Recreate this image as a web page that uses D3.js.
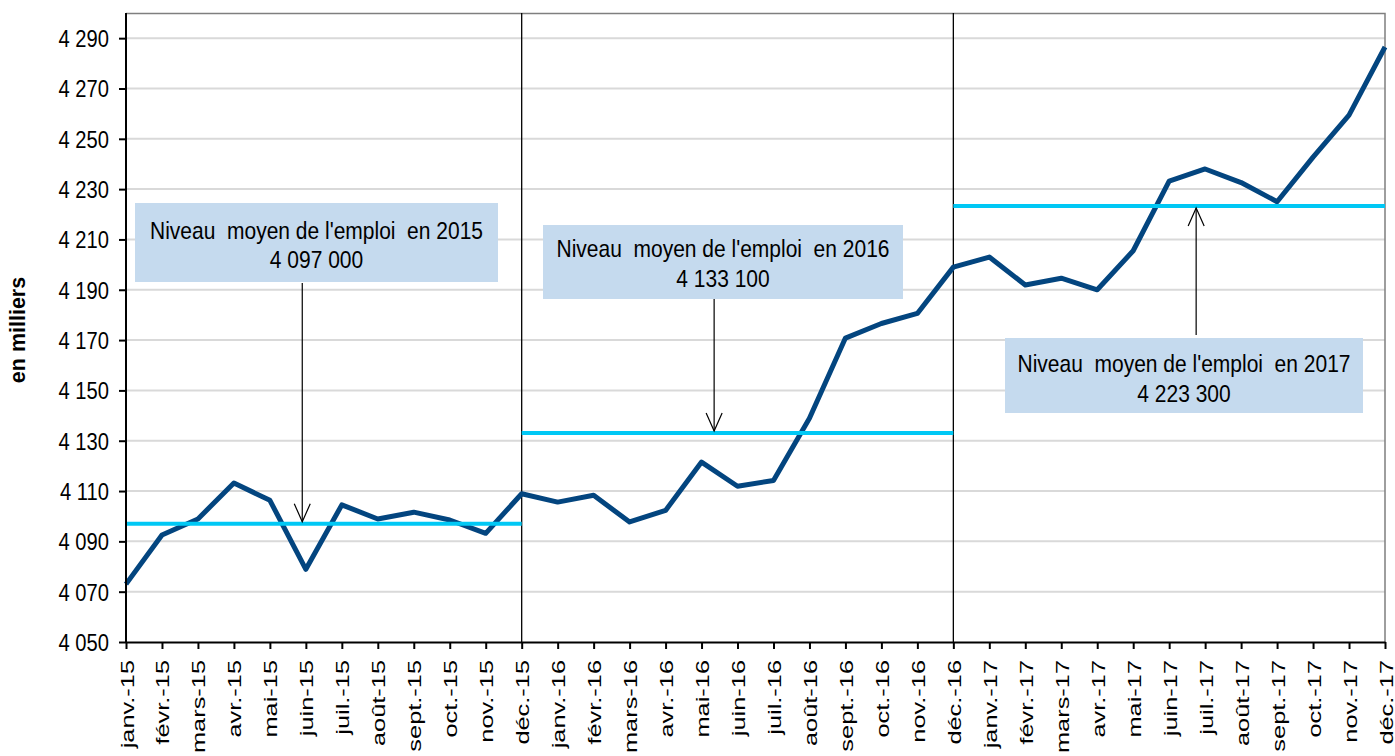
<!DOCTYPE html>
<html>
<head>
<meta charset="utf-8">
<script src="https://cdn.jsdelivr.net/npm/d3@7"></script>
<style>
  body { margin: 0; background: #fff; }
  svg { display: block; font-family: "Liberation Sans", Arial, sans-serif; }
</style>
</head>
<body>
<svg id="chart" width="1395" height="756"></svg>
<script>
// months on the x axis
const months = [
  "janv.-15","févr.-15","mars-15","avr.-15","mai-15","juin-15","juil.-15","août-15","sept.-15","oct.-15","nov.-15","déc.-15",
  "janv.-16","févr.-16","mars-16","avr.-16","mai-16","juin-16","juil.-16","août-16","sept.-16","oct.-16","nov.-16","déc.-16",
  "janv.-17","févr.-17","mars-17","avr.-17","mai-17","juin-17","juil.-17","août-17","sept.-17","oct.-17","nov.-17","déc.-17"
];

// emploi, en milliers
const emploi = [
  4073, 4092.5, 4098.9, 4113.2, 4106.3, 4078.9, 4104.5, 4098.9, 4101.6, 4098.5, 4093.2, 4108.9,
  4105.6, 4108.3, 4097.7, 4102.3, 4121.5, 4111.9, 4114.2, 4138.9, 4170.8, 4176.6, 4180.6, 4199,
  4203, 4191.9, 4194.6, 4190, 4205.5, 4233.2, 4238, 4232.6, 4225, 4242.7, 4259.4, 4286.5
];

// niveau moyen annuel : [mois début, mois fin, valeur]
const moyennes = [
  ["janv.-15", "déc.-15", 4097.0],
  ["déc.-15", "déc.-16", 4133.1],
  ["déc.-16", "déc.-17", 4223.3]
];
const moyLabels = ["Niveau  moyen de l'emploi  en 2015", "Niveau  moyen de l'emploi  en 2016", "Niveau  moyen de l'emploi  en 2017"];
const moyValues = ["4 097 000", "4 133 100", "4 223 300"];

const yTicks = d3.range(4050, 4291, 20);
const separators = ["déc.-15", "déc.-16"];

const svg = d3.select("#chart");
const mLeft = 126, mRight = 1385, mTop = 13, mBottom = 642;

const x = d3.scalePoint().domain(months).range([mLeft, mRight]);
const xi = d3.scaleLinear().domain([0, months.length - 1]).range([mLeft, mRight]);
const y = d3.scaleLinear().domain([4050, 4300]).range([mBottom, mTop]);

const fmt = d3.formatLocale({ decimal: ",", thousands: " ", grouping: [3], currency: ["", " €"] }).format(",d");

// gridlines
svg.append("g").selectAll("line").data(yTicks.slice(1)).join("line")
  .attr("x1", mLeft).attr("x2", mRight)
  .attr("y1", d => y(d)).attr("y2", d => y(d))
  .attr("stroke", "#d9d9d9").attr("stroke-width", 2);

// plot border (top, right)
svg.append("path")
  .attr("d", `M${mLeft},${mTop + 0.5}H${mRight}V${mBottom}`)
  .attr("fill", "none").attr("stroke", "#7f7f7f").attr("stroke-width", 1.5);

// year separators
svg.append("g").selectAll("line").data(separators).join("line")
  .attr("x1", d => x(d)).attr("x2", d => x(d))
  .attr("y1", mTop).attr("y2", mBottom)
  .attr("stroke", "#000").attr("stroke-width", 1.3);

// main line
svg.append("path")
  .datum(emploi)
  .attr("fill", "none")
  .attr("stroke", "#03457f")
  .attr("stroke-width", 5)
  .attr("stroke-linejoin", "round")
  .attr("d", d3.line().x((d, i) => x(months[i])).y(d => y(d)));

// average lines
svg.append("g").selectAll("line").data(moyennes).join("line")
  .attr("x1", d => x(d[0])).attr("x2", d => x(d[1]))
  .attr("y1", d => y(d[2])).attr("y2", d => y(d[2]))
  .attr("stroke", "#00c8f5").attr("stroke-width", 4);

// y axis
const yAxis = svg.append("g")
  .attr("transform", `translate(${mLeft},0)`)
  .call(d3.axisLeft(y).tickValues(yTicks).tickFormat(fmt).tickSize(7).tickSizeOuter(0).tickPadding(0));
yAxis.select(".domain").attr("stroke", "#000").attr("stroke-width", 2)
  .attr("d", `M0,${mTop}V${mBottom}`);
yAxis.selectAll(".tick line").attr("stroke", "#000").attr("stroke-width", 2);
yAxis.selectAll(".tick text")
  .attr("x", null).attr("dy", null)
  .attr("transform", "translate(-17,8.5) scale(0.84,1)")
  .attr("fill", "#000")
  .style("font-size", "24px")
  .style("font-family", "'Liberation Sans', Arial, sans-serif");

// x axis
const xAxis = svg.append("g")
  .attr("transform", `translate(0,${mBottom})`)
  .call(d3.axisBottom(x).tickSize(7).tickSizeOuter(0).tickFormat(""));
xAxis.select(".domain").attr("stroke", "#000").attr("stroke-width", 2);
xAxis.selectAll(".tick line").attr("stroke", "#000").attr("stroke-width", 2);

svg.append("g").selectAll("text").data(months).join("text")
  .attr("transform", d => `translate(${x(d) + 7.5},660) rotate(-90) scale(1.45,1)`)
  .attr("text-anchor", "end")
  .style("font-size", "17.5px")
  .attr("fill", "#000")
  .text(d => d);

// y title
svg.append("text")
  .attr("transform", "translate(25,330) rotate(-90)")
  .attr("text-anchor", "middle")
  .style("font-size", "21.5px")
  .style("font-weight", "bold")
  .text("en milliers");

// annotations
const notes = [
  { box: [135, 203, 363, 79], arrowX: 4.9, tail: 283, tip: moyennes[0][2], t1: 36, t2: 65 },
  { box: [543, 225, 360, 74], arrowX: 16.35, tail: 299, tip: moyennes[1][2], t1: 32, t2: 62 },
  { box: [1005, 338, 358, 75], arrowX: 29.75, tail: 335, tip: moyennes[2][2], t1: 34, t2: 64 }
];

notes.forEach((n, i) => {
  const [bx, by, bw, bh] = n.box;
  const g = svg.append("g");
  g.append("rect").attr("x", bx).attr("y", by).attr("width", bw).attr("height", bh).attr("fill", "#c5daee");
  const cx = bx + bw / 2;
  g.append("text")
    .attr("transform", `translate(${cx},${by + n.t1}) scale(0.875,1)`)
    .attr("text-anchor", "middle")
    .style("font-size", "24px")
    .style("white-space", "pre")
    .text(moyLabels[i]);
  g.append("text")
    .attr("transform", `translate(${cx},${by + n.t2}) scale(0.875,1)`)
    .attr("text-anchor", "middle")
    .style("font-size", "24px")
    .style("white-space", "pre")
    .text(moyValues[i]);

  const ax = xi(n.arrowX);
  const ty = y(n.tip) + (n.tail > y(n.tip) ? 2 : -2);
  const dir = n.tail > ty ? 1 : -1;
  g.append("line")
    .attr("x1", ax).attr("x2", ax).attr("y1", n.tail).attr("y2", ty)
    .attr("stroke", "#000").attr("stroke-width", 1.2);
  g.append("path")
    .attr("d", `M${ax - 8},${ty + dir * 18}L${ax},${ty}L${ax + 8},${ty + dir * 18}`)
    .attr("fill", "none").attr("stroke", "#000").attr("stroke-width", 1.2);
});
</script>
</body>
</html>
